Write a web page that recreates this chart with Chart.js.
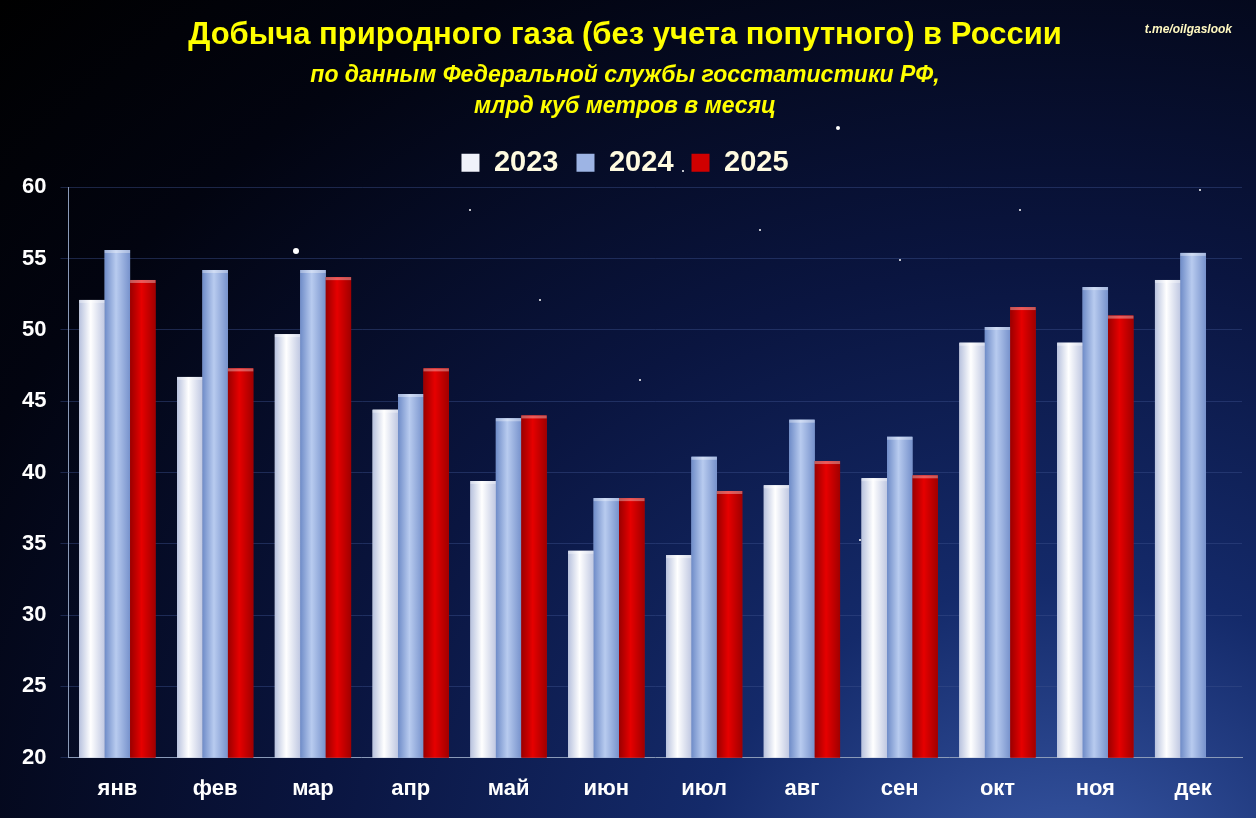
<!DOCTYPE html>
<html><head><meta charset="utf-8">
<script src="https://cdn.jsdelivr.net/npm/chart.js@4"></script>
<style>
html,body{margin:0;padding:0;width:1256px;height:818px;overflow:hidden;}
body{background:radial-gradient(ellipse at 85% 110%, #3a5aa8 0%, #142a6a 25%, #0a1540 50%, #020410 80%, #000 100%);}
#wrap{position:absolute;left:0;top:0;width:1256px;height:818px;}
</style></head><body>
<div id="wrap"><canvas id="c" width="1256" height="818"></canvas></div>
<script>
const categories=["янв","фев","мар","апр","май","июн","июл","авг","сен","окт","ноя","дек"];
const s2023=[52.1,46.7,49.7,44.4,39.4,34.5,34.2,39.1,39.6,49.1,49.1,53.5];
const s2024=[55.6,54.2,54.2,45.5,43.8,38.2,41.1,43.7,42.5,50.2,53.0,55.4];
const s2025=[53.5,47.3,53.7,47.3,44.0,38.2,38.7,40.8,39.8,51.6,51.0,null];
const yTicks=[20,25,30,35,40,45,50,55,60];
const stops=[['#b8c2de','#ffffff','#c0c8e2'],['#6f8cc8','#b8cbef','#7792cc'],['#9a0000','#e60000','#a00000']];

const shade={id:'shade',afterDatasetsDraw(ch){const c=ch.ctx;c.save();
  const base=ch.scales.y.getPixelForValue(20);
  ch.data.datasets.forEach((ds,i)=>{ch.getDatasetMeta(i).data.forEach((el,j)=>{
    if(ds.data[j]==null||!isFinite(el.y)) return;
    const x0=el.x-el.width/2,w=el.width,y0=el.y,h=base-el.y;
    const g=c.createLinearGradient(x0,0,x0+w,0);const s=stops[i];
    g.addColorStop(0,s[0]);g.addColorStop(0.45,s[1]);g.addColorStop(1,s[2]);
    c.fillStyle=g;c.fillRect(x0,y0,w,h);
    c.fillStyle='rgba(255,255,255,0.35)';c.fillRect(x0,y0,w,3);
  });});c.restore();}};
const stars={id:'stars',beforeDraw(ch){const c=ch.ctx;c.save();
  const pts=[[838,128,2],[296,251,3],[683,171,1],[540,300,1],[900,260,1],[1020,210,1],[760,230,1],[640,380,1],[1100,330,1],[980,420,1],[470,210,1],[1200,190,1],[860,540,1],[330,600,1]];
  c.fillStyle='#fff';pts.forEach(p=>{c.beginPath();c.arc(p[0],p[1],p[2],0,Math.PI*2);c.fill();});c.restore();}};
new Chart(document.getElementById('c'),{
  type:'bar',
  data:{labels:categories,datasets:[
    {label:'2023',data:s2023,backgroundColor:'#f0f2fa'},
    {label:'2024',data:s2024,backgroundColor:'#9db4e4'},
    {label:'2025',data:s2025,backgroundColor:'#d00000'}
  ]},
  options:{responsive:false,animation:false,
    layout:{padding:{left:8,right:14,top:0,bottom:6}},
    datasets:{bar:{barPercentage:1,categoryPercentage:0.78}},
    plugins:{
      title:{display:true,text:'Добыча природного газа (без учета попутного) в России',color:'#ffff00',font:{family:'Liberation Sans',size:31,weight:'bold'},padding:{top:17,bottom:6}},
      subtitle:{display:true,text:['по данным Федеральной службы госстатистики РФ,','млрд куб метров в месяц'],color:'#ffff00',font:{family:'Liberation Sans',size:23,weight:'bold',style:'italic',lineHeight:1.35},padding:{bottom:8}},
      legend:{labels:{color:'#fffbe0',font:{family:'Liberation Sans',size:29,weight:'bold'},boxWidth:18,boxHeight:18,padding:18}},
      tooltip:{enabled:false}
    },
    scales:{
      x:{ticks:{color:'#fff',font:{family:'Liberation Sans',size:22,weight:'bold'},padding:10},grid:{display:false},border:{color:'#8a9ab8'}},
      y:{min:20,max:60,afterBuildTicks:(a)=>{a.ticks=yTicks.map(v=>({value:v}));},
         ticks:{color:'#fff',font:{family:'Liberation Sans',size:22,weight:'bold'},padding:14},
         grid:{color:'rgba(60,80,140,0.45)'},border:{color:'#8a9ab8'}}
    }
  },
  plugins:[stars,shade,{id:'wm',afterDraw(ch){const c=ch.ctx;c.save();c.fillStyle='#fff8c0';c.font='italic bold 12px Liberation Sans';c.textAlign='right';c.fillText('t.me/oilgaslook',1232,30);c.restore();}}]
});
</script></body></html>
